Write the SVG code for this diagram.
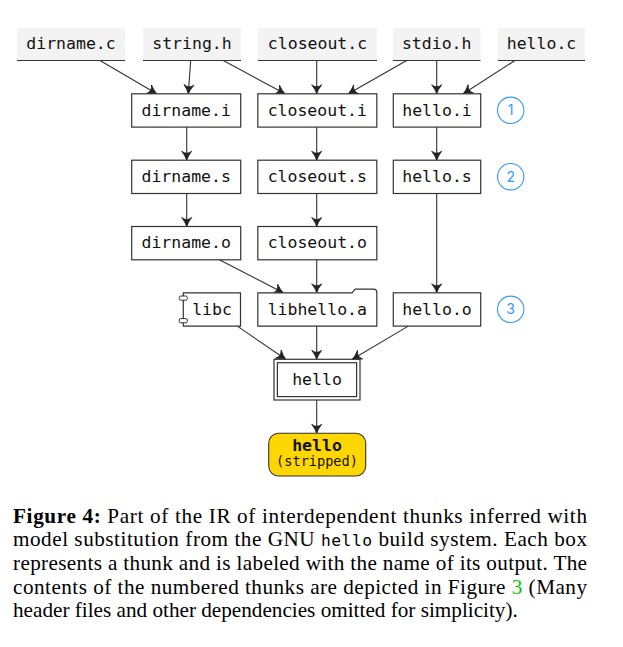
<svg xmlns="http://www.w3.org/2000/svg" width="623" height="647" viewBox="0 0 623 647">
<style>
.bg{fill:#ffffff}
.src{fill:#f3f3f3;stroke:none}
.srcline{stroke:#333;stroke-width:1.2}
.box{fill:#ffffff;stroke:#333;stroke-width:1.2}
.lbl{font-family:"DejaVu Sans Mono","Liberation Mono",monospace;font-size:16.5px;fill:#111;text-anchor:middle}
.edge{stroke:#333;stroke-width:1.1;fill:none;marker-end:url(#arr)}
.num{fill:none;stroke:#3399ff;stroke-width:1.1}
.numt{font-family:"Inter","DejaVu Sans",sans-serif;font-size:14px;fill:#3399ff;text-anchor:middle}
.cap{font-family:"Liberation Serif","Times New Roman",serif;font-size:21.2px;fill:#000}
</style>
<defs>
<marker id="arr" markerUnits="userSpaceOnUse" markerWidth="14" markerHeight="14" viewBox="-11 -7 13 14" refX="0" refY="0" orient="auto">
<path d="M-9,-5 Q-4,-1.2 0,0 Q-4,1.2 -9,5 Q-5,0 -9,-5 Z" fill="#222" stroke="#222" stroke-width="0.8" stroke-linejoin="round"/>
</marker>
</defs>
<rect class="bg" x="0" y="0" width="623" height="647"/>

<g id="edges">
<line class="edge" x1="100" y1="60.5" x2="156.7" y2="93.8"/>
<line class="edge" x1="190.7" y1="60.5" x2="188.3" y2="93.8"/>
<line class="edge" x1="223.3" y1="60.5" x2="285" y2="93.8"/>
<line class="edge" x1="316.7" y1="60.5" x2="316.7" y2="93.8"/>
<line class="edge" x1="406.7" y1="60.5" x2="348.3" y2="93.8"/>
<line class="edge" x1="436.7" y1="60.5" x2="436.7" y2="93.8"/>
<line class="edge" x1="515" y1="60.5" x2="463.3" y2="93.8"/>
<line class="edge" x1="186.7" y1="127.1" x2="186.7" y2="160.2"/>
<line class="edge" x1="316.7" y1="127.1" x2="316.7" y2="160.2"/>
<line class="edge" x1="436.7" y1="127.1" x2="436.7" y2="160.2"/>
<line class="edge" x1="186.7" y1="193.5" x2="186.7" y2="226.5"/>
<line class="edge" x1="316.7" y1="193.5" x2="316.7" y2="226.5"/>
<line class="edge" x1="436.7" y1="193.5" x2="436.7" y2="292.8"/>
<line class="edge" x1="219.3" y1="259.8" x2="283.3" y2="292.8"/>
<line class="edge" x1="316.7" y1="259.8" x2="316.7" y2="292.8"/>
<line class="edge" x1="237.3" y1="326.1" x2="285.7" y2="359.3"/>
<line class="edge" x1="316.7" y1="326.1" x2="316.7" y2="359.3"/>
<line class="edge" x1="408.3" y1="326.1" x2="352.3" y2="359.3"/>
<line class="edge" x1="316.7" y1="400" x2="316.7" y2="433.3"/>
</g>

<g id="dirname_c"><rect class="src" x="17" y="28" width="108" height="32.5"/><line class="srcline" x1="17" y1="60.5" x2="125" y2="60.5"/><text class="lbl" x="71" y="49">dirname.c</text></g>
<g id="string_h"><rect class="src" x="143" y="28" width="98" height="32.5"/><line class="srcline" x1="143" y1="60.5" x2="241" y2="60.5"/><text class="lbl" x="192" y="49">string.h</text></g>
<g id="closeout_c"><rect class="src" x="258" y="28" width="119" height="32.5"/><line class="srcline" x1="258" y1="60.5" x2="377" y2="60.5"/><text class="lbl" x="317.5" y="49">closeout.c</text></g>
<g id="stdio_h"><rect class="src" x="393" y="28" width="87.5" height="32.5"/><line class="srcline" x1="393" y1="60.5" x2="480.5" y2="60.5"/><text class="lbl" x="436.7" y="49">stdio.h</text></g>
<g id="hello_c"><rect class="src" x="498" y="28" width="87" height="32.5"/><line class="srcline" x1="498" y1="60.5" x2="585" y2="60.5"/><text class="lbl" x="541.5" y="49">hello.c</text></g>

<g id="dirname_i"><rect class="box" x="131.7" y="93.8" width="109" height="33.3"/><text class="lbl" x="186.2" y="115.5">dirname.i</text></g>
<g id="closeout_i"><rect class="box" x="257.8" y="93.8" width="119" height="33.3"/><text class="lbl" x="317.3" y="115.5">closeout.i</text></g>
<g id="hello_i"><rect class="box" x="393.3" y="93.8" width="87.4" height="33.3"/><text class="lbl" x="437" y="115.5">hello.i</text></g>
<g id="num1"><circle class="num" cx="510.7" cy="110.3" r="13.2"/><text class="numt" x="510.7" y="115.3">1</text></g>

<g id="dirname_s"><rect class="box" x="131.7" y="160.2" width="109" height="33.3"/><text class="lbl" x="186.2" y="181.8">dirname.s</text></g>
<g id="closeout_s"><rect class="box" x="257.8" y="160.2" width="119" height="33.3"/><text class="lbl" x="317.3" y="181.8">closeout.s</text></g>
<g id="hello_s"><rect class="box" x="393.3" y="160.2" width="87.4" height="33.3"/><text class="lbl" x="437" y="181.8">hello.s</text></g>
<g id="num2"><circle class="num" cx="510.7" cy="176.7" r="13.2"/><text class="numt" x="510.7" y="181.7">2</text></g>

<g id="dirname_o"><rect class="box" x="131.7" y="226.5" width="109" height="33.3"/><text class="lbl" x="186.2" y="248.2">dirname.o</text></g>
<g id="closeout_o"><rect class="box" x="257.8" y="226.5" width="119" height="33.3"/><text class="lbl" x="317.3" y="248.2">closeout.o</text></g>

<g id="libc">
<path class="box" d="M183.3,292.8 H240.5 V326.1 H183.3 Z"/>
<rect x="179.3" y="296" width="8" height="4.2" rx="1.5" fill="#fff" stroke="#333" stroke-width="1"/>
<rect x="179.3" y="318.6" width="8" height="4.2" rx="1.5" fill="#fff" stroke="#333" stroke-width="1"/>
<text class="lbl" x="212" y="314.5">libc</text>
</g>
<g id="libhello_a"><path class="box" d="M257.8,292.8 H352 L355.2,289.2 H373.5 Q376.8,289.2 376.8,292.5 V326.1 H257.8 Z"/><text class="lbl" x="317.3" y="314.5">libhello.a</text></g>
<g id="hello_o"><rect class="box" x="393.3" y="292.8" width="87.4" height="33.3"/><text class="lbl" x="437" y="314.5">hello.o</text></g>
<g id="num3"><circle class="num" cx="510.7" cy="309.3" r="13.2"/><text class="numt" x="510.7" y="314.3">3</text></g>

<g id="hello">
<rect class="box" x="274" y="359.3" width="86" height="40.7" stroke-width="1.3"/>
<rect class="box" x="277.4" y="362.7" width="79.2" height="33.9"/>
<text class="lbl" x="317" y="384.5">hello</text>
</g>

<g id="hello_stripped">
<rect x="268.7" y="433.3" width="97" height="42.7" rx="10" fill="#ffd700" stroke="#333" stroke-width="1.1"/>
<text class="lbl" x="317" y="451.2" font-weight="bold">hello</text>
<text class="lbl" x="317" y="466.3" style="font-size:13.6px">(stripped)</text>
</g>

<g id="caption">
<text class="cap" x="13" y="522.5" textLength="574" lengthAdjust="spacing"><tspan font-weight="bold">Figure 4:</tspan> Part of the IR of interdependent thunks inferred with</text>
<text class="cap" x="13" y="546.2" textLength="574" lengthAdjust="spacing">model substitution from the GNU <tspan font-family="DejaVu Sans Mono, Liberation Mono, monospace" font-size="16.3px">hello</tspan> build system. Each box</text>
<text class="cap" x="13" y="569.9" textLength="574" lengthAdjust="spacing">represents a thunk and is labeled with the name of its output. The</text>
<text class="cap" x="13" y="593.6" textLength="574" lengthAdjust="spacing">contents of the numbered thunks are depicted in Figure <tspan fill="#00cc00">3</tspan> (Many</text>
<text class="cap" x="13" y="617.3">header files and other dependencies omitted for simplicity).</text>
</g>
</svg>
